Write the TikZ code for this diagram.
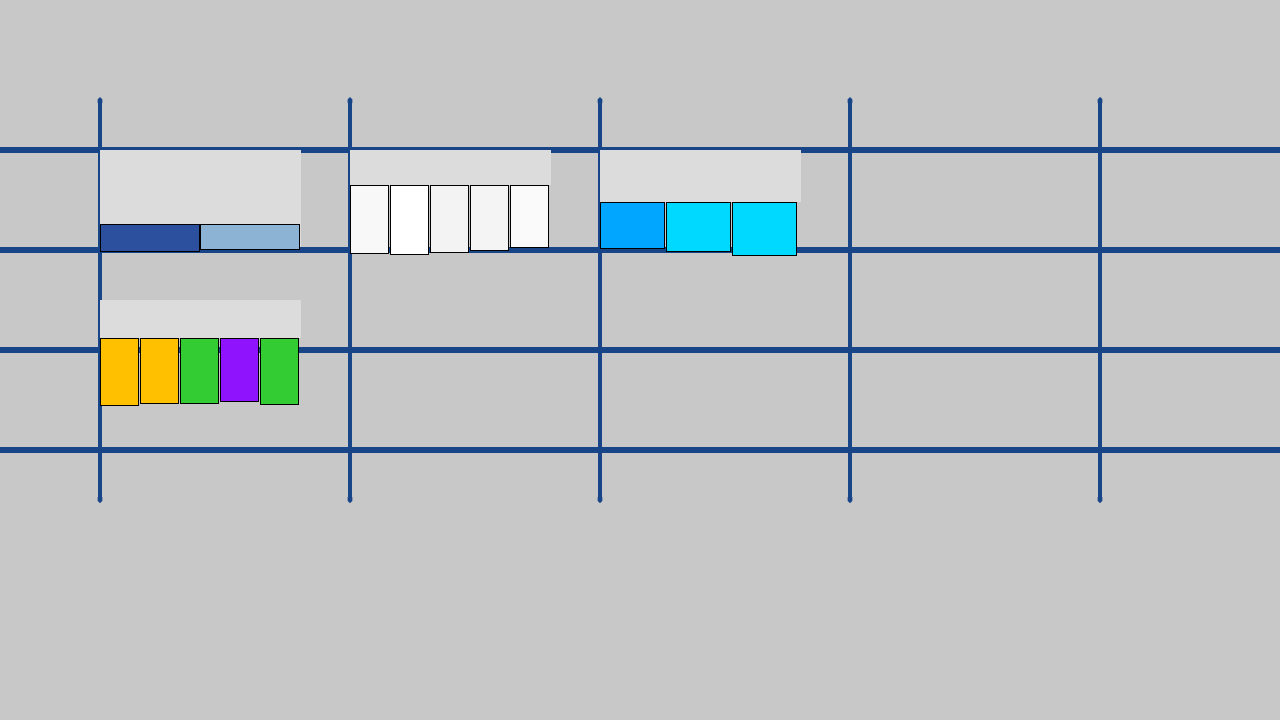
\documentclass[tikz,border=0pt]{standalone}
\usetikzlibrary{arrows.meta}

\definecolor{fondo}{HTML}{C8C8C8}
\definecolor{rejilla}{HTML}{174587}
\definecolor{panel}{HTML}{DCDCDC}
\definecolor{azulosc}{HTML}{2C4F9E}
\definecolor{azulcla}{HTML}{8CB3D4}
\definecolor{blancoA}{HTML}{F8F8F8}
\definecolor{blancoB}{HTML}{FFFFFF}
\definecolor{blancoC}{HTML}{F3F3F3}
\definecolor{blancoD}{HTML}{F4F4F4}
\definecolor{blancoE}{HTML}{FAFAFA}
\definecolor{celeste}{HTML}{00A6FF}
\definecolor{cian}{HTML}{00D9FF}
\definecolor{ambar}{HTML}{FFC000}
\definecolor{verde}{HTML}{33CC33}
\definecolor{violeta}{HTML}{9013FE}

\begin{document}
\begin{tikzpicture}[
        x=0.5pt, y=-0.5pt,
        linea/.style={draw=rejilla, line width=2.9pt},
        poste/.style={draw=rejilla, line width=2.4pt, {Triangle Cap[]}-{Triangle Cap[]}},
        caja/.style={fill=panel},
        ficha/.style={draw=black, line width=0.5pt}
    ]
        \useasboundingbox (0,0) rectangle (1280,720);
        \fill[fondo] (0,0) rectangle (1280,720);

        % rejilla
        \foreach \y in {150,250,350,450}
            \draw[linea] (0,\y) -- (1280,\y);
        \foreach \x in {100,350,600,850,1100}
            \draw[poste] (\x,97) -- (\x,503);

        % primer panel
        \fill[caja] (100,150) rectangle (301,247);
        \filldraw[ficha, fill=azulosc] (100,224) rectangle (199,251);
        \filldraw[ficha, fill=azulcla] (200,224) rectangle (299,249);

        % segundo panel
        \fill[caja] (350,150) rectangle (551,185);
        \foreach \i/\b/\c in {0/253/blancoA, 1/254/blancoB, 2/252/blancoC, 3/250/blancoD, 4/247/blancoE}
            \filldraw[ficha, fill=\c] (350+40*\i,185) rectangle (388.7+40*\i,\b);

        % tercer panel
        \fill[caja] (600,150) rectangle (801,202);
        \filldraw[ficha, fill=celeste] (600,202) rectangle (664,248);
        \filldraw[ficha, fill=cian] (666,202) rectangle (730,251);
        \filldraw[ficha, fill=cian] (732,202) rectangle (796,255);

        % cuarto panel
        \fill[caja] (100,300) rectangle (301,338);
        \foreach \i/\b/\c in {0/405/ambar, 1/403/ambar, 2/403/verde, 3/401/violeta, 4/404/verde}
            \filldraw[ficha, fill=\c] (100+40*\i,338) rectangle (138.7+40*\i,\b);

    \end{tikzpicture}
\end{document}
